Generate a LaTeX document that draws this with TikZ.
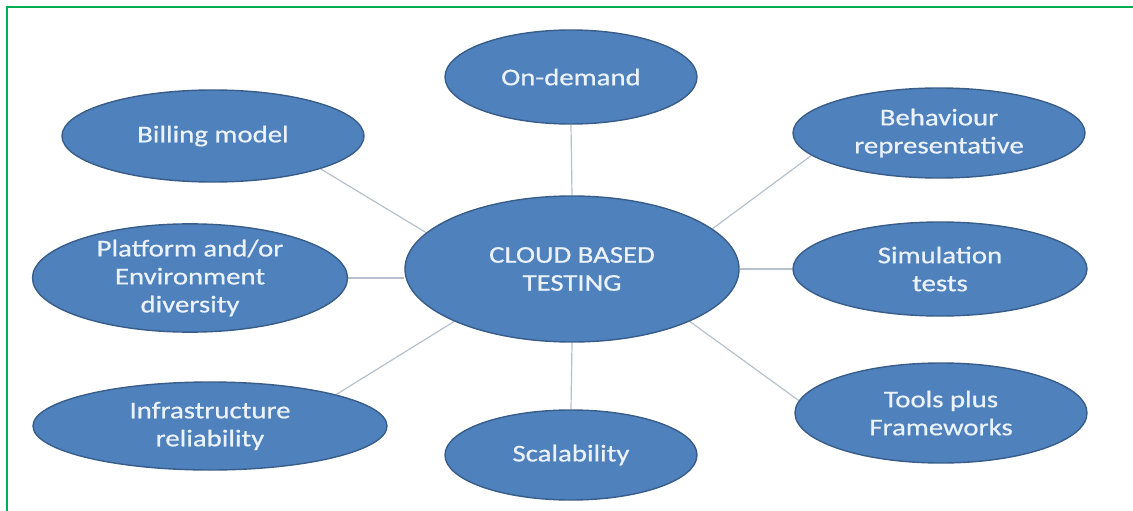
\documentclass[tikz,border=0pt]{standalone}
\usepackage{fontspec}
\setmainfont{Carlito}[FakeStretch=1.2,FakeBold=0.6]
\usetikzlibrary{shapes.geometric,backgrounds}
\definecolor{bubble}{RGB}{79,129,189}
\definecolor{bubbleedge}{RGB}{56,93,138}
\definecolor{bubbletext}{RGB}{236,242,250}
\definecolor{linkcol}{RGB}{182,192,204}
\definecolor{framegreen}{RGB}{0,176,80}
\tikzset{
  bubblenode/.style={ellipse, fill=bubble, draw=bubbleedge, line width=1.4pt,
    inner sep=0pt, text=bubbletext, align=center,
    font=\fontsize{24}{28}\selectfont},
  link/.style={draw=linkcol, line width=1.2pt},
}
\begin{document}
\begin{tikzpicture}[x=1pt,y=-1pt]
\useasboundingbox (0,0) rectangle (1133,511);
\draw[framegreen, line width=2.5pt] (7,511) -- (7,7) -- (1133,7);

\node[bubblenode, minimum width=334pt, minimum height=146pt] (c) at (572,269) {CLOUD BASED\\TESTING};
\node[bubblenode, minimum width=252pt, minimum height=94pt] (od) at (571,77) {On-demand};
\node[bubblenode, minimum width=302pt, minimum height=92pt] (bill) at (213,136) {Billing model};
\node[bubblenode, minimum width=292pt, minimum height=90pt] (beh) at (939,133) {Behaviour\\representative};
\node[bubblenode, minimum width=315pt, minimum height=92pt] (plat) at (190,278) {Platform and/or\\Environment\\diversity};
\node[bubblenode, minimum width=294pt, minimum height=94pt] (sim) at (940,269) {Simulation\\tests};
\node[bubblenode, minimum width=354pt, minimum height=88pt] (inf) at (210,426) {Infrastructure\\reliability};
\node[bubblenode, minimum width=252pt, minimum height=90pt] (sc) at (571,455) {Scalability};
\node[bubblenode, minimum width=292pt, minimum height=100pt] (tools) at (941,413) {Tools plus\\Frameworks};

\begin{scope}[on background layer]
\draw[link] (od.south) -- (c.north);
\draw[link] (c.south) -- (sc.north);
\draw[link] (c.east) -- (sim.west);
\draw[link] (plat.east) -- (plat.east -| c.west);
\draw[link] (bill.-17) -- (c.166);
\draw[link] (beh.190) -- (c.16);
\draw[link] (inf.14) -- (c.-156);
\draw[link] (tools.175) -- (c.-24);
\end{scope}
\end{tikzpicture}
\end{document}
